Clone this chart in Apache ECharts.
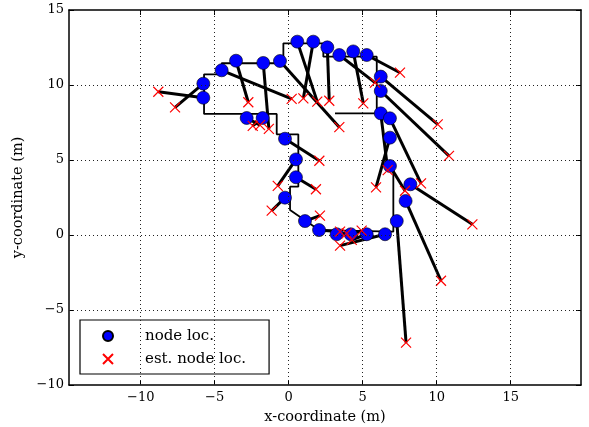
<!DOCTYPE html>
<html><head><meta charset="utf-8">
<script src="https://cdn.jsdelivr.net/npm/echarts@6/dist/echarts.min.js"></script>
<style>html,body{margin:0;padding:0;background:#fff}#c{width:589px;height:427px}</style>
</head><body><div id="c"></div>
<script>
const xTicks = [-10, -5, 0, 5, 10, 15];
const yTicks = [-10, -5, 0, 5, 10, 15];

const nodeX = [-5.77, -5.77, -4.53, -3.56, -1.72, -0.59, -2.84, -1.76, -0.25, 0.49, 0.49, -0.25, 1.10, 2.05, 3.24, 4.19, 5.27, 6.51, 7.30, 7.90, 8.22, 0.58, 1.66, 2.61, 3.42, 4.36, 5.27, 6.22, 6.22, 6.22, 6.84, 6.84, 6.84];
const nodeY = [10.09, 9.15, 10.98, 11.62, 11.47, 11.60, 7.80, 7.80, 6.42, 5.04, 3.85, 2.49, 0.93, 0.33, 0.05, 0.05, 0.05, 0.05, 0.93, 2.27, 3.38, 12.89, 12.89, 12.51, 12.00, 12.24, 12.00, 10.56, 9.60, 8.11, 7.78, 6.49, 4.60];
const estX = [-7.68, -8.81, 0.20, -2.73, -1.34, 3.42, -1.94, -2.43, 2.07, -0.74, 1.84, -1.15, 2.11, 3.47, 3.92, 4.93, 4.26, 3.47, 7.93, 10.29, 12.41, 1.93, 0.99, 2.74, 5.83, 5.04, 7.52, 10.07, 10.83, 6.69, 8.94, 5.90, 7.86];
const estY = [8.51, 9.55, 9.07, 8.85, 7.08, 7.19, 7.33, 7.27, 4.95, 3.27, 3.05, 1.62, 1.29, 0.22, 0.11, 0.29, -0.33, -0.71, -7.18, -3.05, 0.71, 8.89, 9.11, 8.95, 10.16, 8.78, 10.82, 7.38, 5.27, 4.33, 3.44, 3.18, 2.95];

const outlineX = [3.13, 5.95, 5.95, 2.34, 2.34, -0.36, -0.36, -4.53, -4.53, -5.72, -5.72, -0.81, -0.81, 0.65, 0.65, 0.09, 0.09, 2.05, 7.07, 7.07];
const outlineY = [8.11, 8.11, 11.89, 11.89, 12.78, 12.78, 11.45, 11.45, 10.71, 10.71, 8.07, 8.07, 6.71, 6.71, 3.22, 3.22, 1.67, 0.33, 0.22, 4.60];

const FONT = 'DejaVu Serif';
const fmt = v => String(v).replace('-', '\u2212');

const nodes = nodeX.map((x, i) => [x, nodeY[i]]);
const ests = estX.map((x, i) => [x, estY[i]]);
const pairs = nodes.map((p, i) => ({ coords: [p, ests[i]] }));
const outline = outlineX.map((x, i) => [x, outlineY[i]]);

const XMIN = -14.845, XMAX = 19.75;

const chart = echarts.init(document.getElementById('c'), null, { renderer: 'canvas' });
const axisCommon = {
  type: 'value',
  axisLine: { show: true, onZero: false, lineStyle: { color: '#000', width: 1.5 } },
  splitLine: { show: false },
};
chart.setOption({
  animation: false,
  backgroundColor: '#fff',
  grid: { left: 69, top: 10, right: 8, bottom: 42, containLabel: false, outerBoundsMode: 'none' },
  xAxis: [
    Object.assign({}, axisCommon, {
      position: 'bottom', min: XMIN, max: XMAX,
      name: 'x-coordinate (m)', nameLocation: 'middle', nameGap: 25,
      nameTextStyle: { fontFamily: FONT, fontSize: 14.5, color: '#000' },
      axisTick: { show: true, inside: true, length: 5, customValues: xTicks, lineStyle: { color: '#000' } },
      axisLabel: { show: true, customValues: xTicks, formatter: fmt, margin: 6, fontFamily: FONT, fontSize: 13, color: '#000' }
    }),
    Object.assign({}, axisCommon, {
      position: 'top', min: XMIN, max: XMAX,
      axisTick: { show: true, inside: true, length: 5, customValues: xTicks, lineStyle: { color: '#000' } },
      axisLabel: { show: false }
    })
  ],
  yAxis: [
    Object.assign({}, axisCommon, {
      position: 'left', min: -10, max: 15, interval: 5,
      name: 'y-coordinate (m)', nameLocation: 'middle', nameGap: 37,
      nameTextStyle: { fontFamily: FONT, fontSize: 14.5, color: '#000' },
      axisTick: { show: true, inside: true, length: 5, lineStyle: { color: '#000' } },
      axisLabel: { show: true, formatter: fmt, margin: 5, fontFamily: FONT, fontSize: 13, color: '#000' }
    }),
    Object.assign({}, axisCommon, {
      position: 'right', min: -10, max: 15, interval: 5,
      axisTick: { show: true, inside: true, length: 5, lineStyle: { color: '#000' } },
      axisLabel: { show: false }
    })
  ],
  legend: {
    orient: 'vertical', left: 80, top: 320,
    data: ['node loc.', 'est. node loc.'],
    backgroundColor: '#fff', borderColor: '#000', borderWidth: 1.2, borderRadius: 0,
    padding: [8, 23, 7, 22], itemGap: 7, itemWidth: 10, itemHeight: 10,
    selectedMode: false,
    textStyle: { fontFamily: FONT, fontSize: 15, lineHeight: 16, color: '#000', padding: [0, 0, 0, 27] }
  },
  series: [
    {
      type: 'line', data: [], silent: true, z: 0,
      markLine: {
        silent: true, symbol: 'none', animation: false,
        label: { show: false },
        lineStyle: { color: '#222', width: 1, type: [1, 3] },
        data: xTicks.map(v => ({ xAxis: v })).concat(yTicks.filter(v => v > -10 && v < 15).map(v => ({ yAxis: v })))
      }
    },
    {
      name: 'outline', type: 'line', data: outline, showSymbol: false, silent: true, z: 1,
      lineStyle: { color: '#000', width: 1.8 }
    },
    {
      name: 'links', type: 'lines', coordinateSystem: 'cartesian2d', data: pairs, silent: true, z: 2,
      lineStyle: { color: '#000', width: 3, opacity: 1 }
    },
    {
      name: 'node loc.', type: 'scatter', data: nodes, symbol: 'circle', symbolSize: 13, z: 3,
      itemStyle: { color: '#0000ff', borderColor: '#000', borderWidth: 0.6, opacity: 1 }
    },
    {
      name: 'est. node loc.', type: 'scatter', data: ests, symbol: 'path://M0,0L10,10M10,0L0,10', symbolSize: 10, z: 4,
      itemStyle: { color: 'rgba(0,0,0,0)', borderColor: '#ff0000', borderWidth: 1.2, opacity: 1 }
    }
  ]
});
</script></body></html>
